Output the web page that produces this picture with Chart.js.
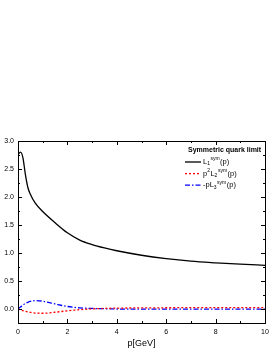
<!DOCTYPE html>
<html lang="en">
<head>
    <meta charset="UTF-8">
    <title>Symmetric quark limit</title>
    <script src="https://cdn.jsdelivr.net/npm/chart.js"></script>
    <style>
        body { margin: 0; background: white; }
        #wrap { width: 272px; height: 352px; }
    </style>
</head>
<body>
    <div id="wrap"><canvas id="chart" width="272" height="352"></canvas></div>

    <script>
        // data
        const pValues = [0, 0.1, 0.2, 0.3, 0.4, 0.5, 0.7, 1, 1.5, 2, 2.5, 3, 3.5, 4, 5, 6, 7, 8, 9, 10];
        const L1sym   = [2.76, 2.80, 2.70, 2.40, 2.17, 2.05, 1.89, 1.74, 1.54, 1.36, 1.23, 1.15, 1.09, 1.04, 0.96, 0.90, 0.855, 0.825, 0.80, 0.78];
        const p2L2sym = [0, -0.015, -0.03, -0.042, -0.052, -0.06, -0.072, -0.076, -0.058, -0.032, -0.012, 0.002, 0.01, 0.015, 0.02, 0.022, 0.024, 0.025, 0.025, 0.026];
        const mpL3sym = [0, 0.035, 0.07, 0.1, 0.12, 0.135, 0.15, 0.14, 0.09, 0.045, 0.02, 0.01, 0.005, 0, -0.003, -0.003, -0.003, -0.003, -0.003, -0.003];

        const xTicks = [0, 2, 4, 6, 8, 10];
        const yTicks = [0, 0.5, 1, 1.5, 2, 2.5, 3];
        const legendTitle = "Symmetric quark limit";
        // label pieces: [text, 'sub' | 'sup' | '']
        const legendLabels = [
            [["L", ""], ["1", "sub"], ["sym", "sup"], ["(p)", ""]],
            [["p", ""], ["2", "sup"], ["L", ""], ["2", "sub"], ["sym", "sup"], ["(p)", ""]],
            [["-pL", ""], ["3", "sub"], ["sym", "sup"], ["(p)", ""]]
        ];

        const toPts = ys => pValues.map((x, i) => ({ x: x, y: ys[i] }));

        const FONT = "'Liberation Sans', Arial, sans-serif";

        // frame with inward ticks on all four sides + legend
        const frame = {
            id: 'frame',
            afterDraw(chart) {
                const ctx = chart.ctx, a = chart.chartArea;
                const xs = chart.scales.x, ys = chart.scales.y;
                ctx.save();
                ctx.strokeStyle = '#000';
                ctx.lineWidth = 1;
                ctx.strokeRect(a.left + 0.5, a.top + 0.5, a.right - a.left, a.bottom - a.top);
                ctx.beginPath();
                for (let v = 0; v <= 10; v += 1) {
                    const px = Math.round(xs.getPixelForValue(v)) + 0.5;
                    const len = v % 2 === 0 ? 4 : 2;
                    ctx.moveTo(px, a.bottom); ctx.lineTo(px, a.bottom - len);
                    ctx.moveTo(px, a.top); ctx.lineTo(px, a.top + len);
                }
                for (let v = -0.25; v <= 3.0001; v += 0.25) {
                    const py = Math.round(ys.getPixelForValue(v)) + 0.5;
                    const len = Math.abs(v * 2 - Math.round(v * 2)) < 1e-6 ? 4 : 2;
                    ctx.moveTo(a.left, py); ctx.lineTo(a.left + len, py);
                    ctx.moveTo(a.right, py); ctx.lineTo(a.right - len, py);
                }
                ctx.stroke();

                // legend
                const lx = 185, ty = 150;
                ctx.fillStyle = '#000';
                ctx.textBaseline = 'middle';
                ctx.font = 'bold 7px ' + FONT;
                ctx.fillText(legendTitle, 188, ty);
                chart.data.datasets.forEach((ds, i) => {
                    const y = 162 + i * 11.6;
                    ctx.beginPath();
                    ctx.strokeStyle = ds.borderColor;
                    ctx.lineWidth = 1.3;
                    ctx.setLineDash(ds.borderDash || []);
                    ctx.moveTo(lx, y); ctx.lineTo(lx + 16, y);
                    ctx.stroke();
                    ctx.setLineDash([]);
                    let x = lx + 18;
                    legendLabels[i].forEach(([t, k]) => {
                        ctx.font = (k ? '5px ' : '7.5px ') + FONT;
                        const dy = k === 'sub' ? 2 : k === 'sup' ? -3 : 0;
                        ctx.fillStyle = '#000';
                        ctx.fillText(t, x, y + dy);
                        x += ctx.measureText(t).width + (k ? 0.5 : 0);
                    });
                });
                ctx.restore();
            }
        };

        new Chart(document.getElementById('chart'), {
            type: 'scatter',
            data: {
                datasets: [
                    { label: 'L1sym(p)', data: toPts(L1sym), borderColor: '#000000', borderWidth: 1.3 },
                    { label: 'p2L2sym(p)', data: toPts(p2L2sym), borderColor: '#ff0000', borderWidth: 1.3, borderDash: [2, 2] },
                    { label: '-pL3sym(p)', data: toPts(mpL3sym), borderColor: '#0000ff', borderWidth: 1.3, borderDash: [5, 2, 1.5, 2] }
                ].map(d => Object.assign(d, { showLine: true, pointRadius: 0, fill: false, cubicInterpolationMode: 'monotone' }))
            },
            options: {
                responsive: false,
                animation: false,
                layout: { padding: { top: 141, right: 7, left: 0, bottom: 0 } },
                plugins: { legend: { display: false }, tooltip: { enabled: false } },
                scales: {
                    x: {
                        type: 'linear', min: 0, max: 10,
                        grid: { display: false, drawTicks: false },
                        border: { display: false },
                        afterBuildTicks: s => { s.ticks = xTicks.map(v => ({ value: v })); },
                        afterFit: s => { s.height = 29; s.paddingLeft = 0; s.paddingRight = 0; },
                        ticks: { color: '#000', font: { size: 7, family: FONT }, padding: 5, maxRotation: 0 },
                        title: { display: true, text: 'p[GeV]', color: '#000', font: { size: 9, family: FONT }, padding: { top: 0, bottom: 3 } }
                    },
                    y: {
                        type: 'linear', min: -0.25, max: 3.0,
                        grid: { display: false, drawTicks: false },
                        border: { display: false },
                        afterBuildTicks: s => { s.ticks = yTicks.map(v => ({ value: v })); },
                        afterFit: s => { s.width = 18; s.paddingTop = 0; s.paddingBottom = 0; },
                        ticks: { color: '#000', font: { size: 7, family: FONT }, padding: 4, callback: v => v.toFixed(1) }
                    }
                }
            },
            plugins: [frame]
        });
    </script>
</body>
</html>
